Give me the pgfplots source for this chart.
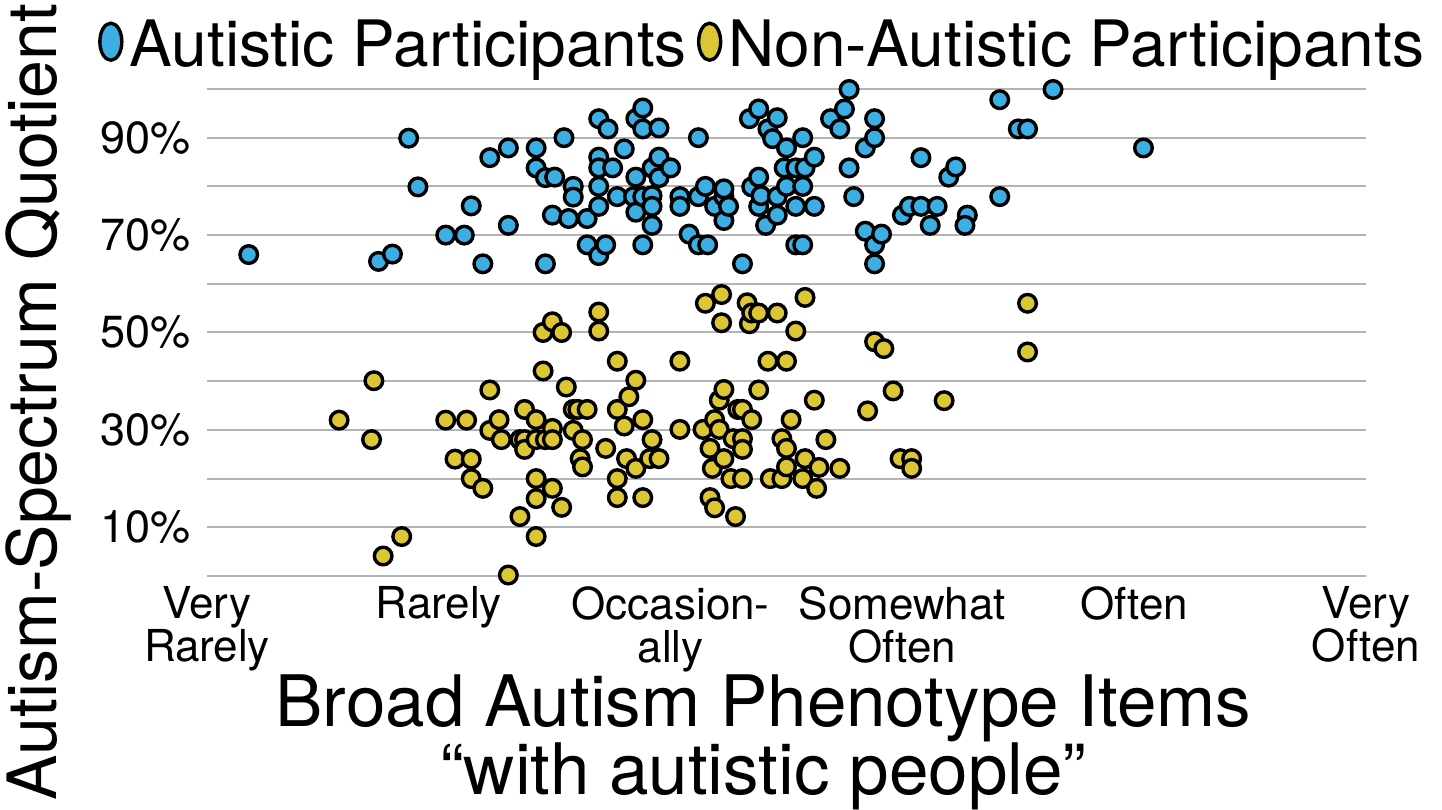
\documentclass[border=0pt]{standalone}
\usepackage{pgfplots}
\pgfplotsset{compat=1.18}
\usepackage{fontspec}
\setmainfont{TeX Gyre Heros}
\definecolor{autblue}{HTML}{3BAEE3}
\definecolor{autyel}{HTML}{DCC634}
\definecolor{gridgray}{HTML}{B4B4B4}
\begin{document}
\begin{tikzpicture}
\path[use as bounding box] (0,0) rectangle (1442pt,810pt);
\begin{axis}[
 at={(207pt,234pt)}, anchor=south west,
 scale only axis, width=1159pt, height=487pt,
 xmin=1, xmax=6, ymin=0, ymax=100,
 clip=false,
 axis line style={draw=none},
 major tick length=0pt, minor tick length=0pt,
 xtick={1,2,3,4,5,6},
 xticklabels={{Very\\Rarely},{Rarely},{Occasion-\\ally},{Somewhat\\Often},{Often},{Very\\Often}},
 xticklabel style={align=center, font=\fontsize{44}{43}\selectfont, anchor=north, inner sep=0pt, yshift=-10pt},
 ytick={10,30,50,70,90},
 yticklabels={10\%,30\%,50\%,70\%,90\%},
 yticklabel style={font=\fontsize{45}{45}\selectfont, anchor=east, inner sep=0pt, xshift=-16pt},
 minor ytick={0,20,40,60,80,100},
 ymajorgrids, yminorgrids,
 major grid style={gridgray, line width=2pt},
 minor grid style={gridgray, line width=2pt},
 xlabel={Broad Autism Phenotype Items\\“with autistic people”},
 xlabel style={align=center, font=\fontsize{71}{62}\selectfont, at={(axis description cs:0.48,-0.341)}, anchor=center},
 ylabel={Autism-Spectrum Quotient},
 ylabel style={font=\fontsize{68}{68}\selectfont, at={(axis description cs:-0.145,0.357)}, anchor=center},
 legend columns=2,
 legend cell align=left,
 legend style={draw=none, fill=none, at={(axis description cs:0.479,1.093)}, anchor=center,
   font=\fontsize{64}{64}\selectfont, inner sep=0pt,
   /tikz/every odd column/.append style={column sep=4pt},
   /tikz/every even column/.append style={column sep=8pt}},
]
\addplot[only marks, mark=*, mark size=8.8pt, mark options={draw=black, line width=3.4pt, fill=autblue},
 legend image code/.code={\draw[black, line width=3.4pt, fill=autblue] (0pt,2pt) ellipse [x radius=11pt, y radius=18.5pt];}]
coordinates {
(1.18,66.0)(1.74,64.6)(1.80,66.1)(1.87,89.9)(1.91,79.9)(2.03,70.0)(2.11,70.0)(2.14,76.0)(2.19,64.1)(2.22,85.9)
(2.30,87.9)(2.30,72.0)(2.42,87.9)(2.42,83.8)(2.46,81.8)(2.50,81.9)(2.46,64.1)(2.49,74.1)(2.54,90.0)(2.56,73.4)
(2.58,80.0)(2.58,77.8)(2.64,73.4)(2.64,68.0)(2.69,93.9)(2.69,86.0)(2.69,83.8)(2.69,80.0)(2.69,75.9)(2.69,65.8)
(2.73,91.8)(2.72,68.0)(2.75,83.8)(2.77,77.9)(2.80,87.7)(2.85,93.9)(2.85,81.9)(2.84,77.9)(2.85,74.7)(2.88,96.1)
(2.88,91.8)(2.88,77.9)(2.88,68.0)(2.92,83.8)(2.92,78.1)(2.92,75.9)(2.92,72.0)(2.95,92.0)(2.95,86.0)(2.95,81.8)
(3.00,83.8)(3.04,77.9)(3.04,75.9)(3.08,70.2)(3.12,90.0)(3.12,77.9)(3.12,68.0)(3.15,80.0)(3.16,68.0)(3.19,75.9)
(3.23,77.9)(3.23,79.5)(3.23,73.0)(3.25,75.9)(3.31,64.1)(3.34,93.9)(3.35,79.9)(3.38,95.9)(3.38,81.9)(3.38,75.9)
(3.39,78.1)(3.41,72.0)(3.42,91.8)(3.44,89.8)(3.46,94.1)(3.46,77.9)(3.46,74.1)(3.49,83.8)(3.50,87.9)(3.50,80.0)
(3.54,83.8)(3.54,75.9)(3.54,68.0)(3.57,90.0)(3.57,80.0)(3.57,68.0)(3.58,83.8)(3.62,86.0)(3.62,75.9)(3.69,93.9)
(3.73,91.8)(3.75,95.9)(3.77,99.9)(3.77,83.8)(3.79,77.9)(3.84,87.9)(3.84,70.8)(3.88,93.9)(3.88,90.0)(3.88,68.0)
(3.88,64.1)(3.91,70.2)(4.00,74.1)(4.03,75.9)(4.08,85.9)(4.08,75.9)(4.12,72.0)(4.15,75.9)(4.20,81.9)(4.23,84.0)
(4.28,74.1)(4.27,72.0)(4.42,97.8)(4.42,77.9)(4.50,91.8)(4.54,91.8)(4.65,99.9)(5.04,87.9)
};
\addlegendentry{Autistic Participants}
\addplot[only marks, mark=*, mark size=8.8pt, mark options={draw=black, line width=3.4pt, fill=autyel},
 legend image code/.code={\draw[black, line width=3.4pt, fill=autyel] (0pt,2pt) ellipse [x radius=11pt, y radius=18.5pt];}]
coordinates {
(1.57,32.0)(1.72,40.1)(1.71,28.0)(1.76,4.1)(1.84,8.1)(2.03,32.0)(2.12,32.0)(2.07,24.0)(2.14,24.0)(2.14,20.0)
(2.19,18.0)(2.22,38.2)(2.22,29.9)(2.26,32.1)(2.27,28.0)(2.30,0.2)(2.35,12.2)(2.35,28.0)(2.37,34.2)(2.37,28.0)
(2.37,26.0)(2.42,32.1)(2.42,28.0)(2.42,20.0)(2.42,15.9)(2.42,8.1)(2.45,50.0)(2.45,42.1)(2.46,28.0)(2.49,52.2)
(2.49,30.3)(2.49,28.0)(2.49,18.0)(2.53,50.0)(2.53,14.1)(2.55,38.8)(2.58,34.2)(2.60,34.2)(2.58,29.9)(2.61,24.1)
(2.62,22.4)(2.62,28.0)(2.64,34.2)(2.69,54.2)(2.69,50.3)(2.72,26.2)(2.77,44.1)(2.77,34.2)(2.77,20.0)(2.77,16.1)
(2.80,30.8)(2.81,24.1)(2.82,36.8)(2.85,40.2)(2.85,22.1)(2.88,32.1)(2.88,16.1)(2.92,28.0)(2.91,24.1)(2.95,24.1)
(3.04,44.1)(3.04,30.1)(3.14,30.1)(3.15,56.0)(3.17,26.2)(3.17,16.1)(3.18,22.1)(3.19,32.1)(3.19,14.0)(3.21,36.1)
(3.21,30.1)(3.22,57.8)(3.22,52.0)(3.23,38.3)(3.23,24.1)(3.26,20.0)(3.27,28.2)(3.28,12.2)(3.29,34.2)(3.31,34.2)
(3.31,28.2)(3.31,26.0)(3.31,20.0)(3.33,56.1)(3.34,51.8)(3.35,54.0)(3.35,32.1)(3.38,54.0)(3.38,38.2)(3.42,44.1)
(3.43,20.0)(3.46,54.0)(3.48,28.2)(3.48,20.0)(3.50,44.1)(3.50,26.2)(3.50,22.4)(3.52,32.1)(3.54,50.3)(3.58,57.2)
(3.57,20.0)(3.58,24.1)(3.62,36.1)(3.63,18.0)(3.64,22.3)(3.67,28.0)(3.73,22.1)(3.85,33.9)(3.88,48.1)(3.92,46.7)
(3.96,38.0)(3.99,24.1)(4.04,24.1)(4.04,22.1)(4.18,36.0)(4.54,56.0)(4.54,46.0)
};
\addlegendentry{Non-Autistic Participants}
\end{axis}
\end{tikzpicture}
\end{document}
